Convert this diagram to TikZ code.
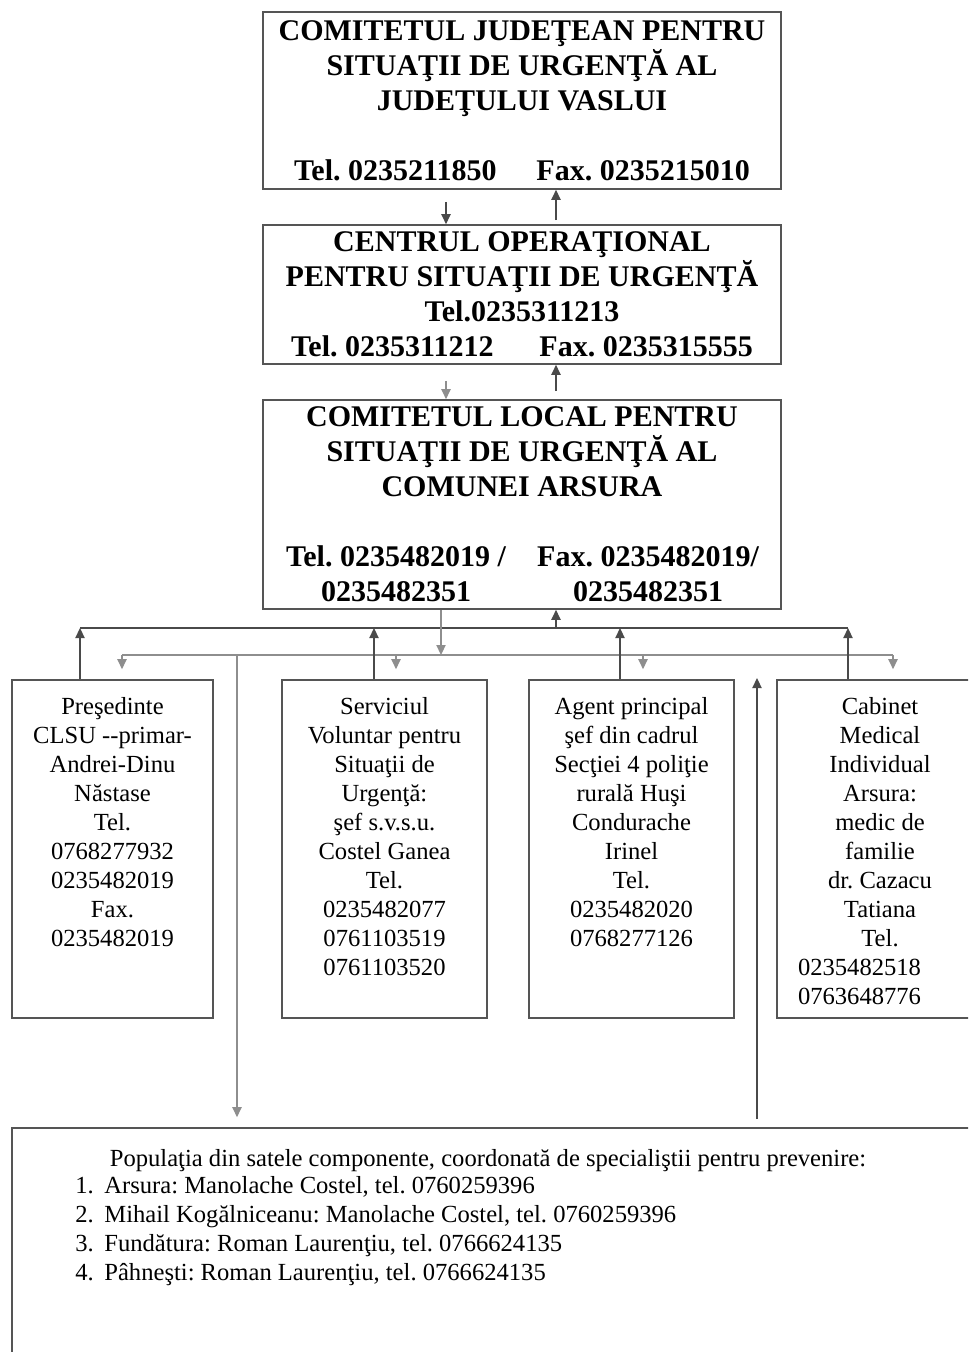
\documentclass[tikz,border=0pt]{standalone}
\usepackage{fontspec}
\setmainfont{Liberation Serif}
\usetikzlibrary{arrows.meta}
\definecolor{boxcol}{HTML}{555555}
\definecolor{darkcol}{HTML}{4A4A4A}
\definecolor{graycol}{HTML}{8E8E8E}
\newcommand\bgfnt{\fontsize{15pt}{17.5pt}\selectfont\bfseries}
\newcommand\smfnt{\fontsize{12.3pt}{14.5pt}\selectfont}
\frenchspacing
\begin{document}
\frenchspacing
\begin{tikzpicture}[x=0.5pt,y=-0.5pt,
  bigbox/.style={draw=boxcol, line width=0.8pt, inner sep=0pt, align=center, font=\bgfnt, minimum width=259pt},
  smallbox/.style={draw=boxcol, line width=0.8pt, minimum height=169pt, inner sep=0pt},
  txt/.style={align=center, inner sep=0pt, font=\smfnt, anchor=north},
  darkarr/.style={draw=darkcol, line width=0.7pt, -{Triangle[length=5pt,width=4.6pt]}},
  grayarr/.style={draw=graycol, line width=0.7pt, -{Triangle[length=5pt,width=4.6pt]}},
  darkline/.style={draw=darkcol, line width=0.7pt},
  grayline/.style={draw=graycol, line width=0.7pt}]
\useasboundingbox (0,0) rectangle (968,1352);
\fill[white] (0,0) rectangle (968,1352);
\clip (0,0) rectangle (968,1352);

% main boxes
\node[bigbox, minimum height=88.5pt] (J) at (522,100.5) {COMITETUL JUDEŢEAN PENTRU\\SITUAŢII DE URGENŢĂ AL\\JUDEŢULUI VASLUI\\[17.5pt]Tel. 0235211850\hspace{20pt}Fax. 0235215010};
\node[bigbox, minimum height=69.5pt] (C) at (522,294.5) {CENTRUL OPERAŢIONAL\\PENTRU SITUAŢII DE URGENŢĂ\\Tel.0235311213\\Tel. 0235311212\hspace{23pt}Fax. 0235315555};
\node[bigbox, minimum height=104.5pt] (L) at (522,504.5) {COMITETUL LOCAL PENTRU\\SITUAŢII DE URGENŢĂ AL\\COMUNEI ARSURA\\[17.5pt]\makebox[112pt]{Tel. 0235482019 /}\hspace{14pt}\makebox[112pt]{Fax. 0235482019/}\\\makebox[112pt]{0235482351}\hspace{14pt}\makebox[112pt]{0235482351}};

% small boxes
\node[smallbox, minimum width=100.5pt] (A) at (112.5,849) {};
\node[smallbox, minimum width=102.5pt] (B) at (384.5,849) {};
\node[smallbox, minimum width=102.5pt] (G) at (631.5,849) {};
\node[smallbox, minimum width=103pt] (D) at (880,849) {};

\node[txt] (At) at (112.5,697) {Preşedinte\\CLSU -{}-primar-\\Andrei-Dinu\\Năstase\\Tel.\\0768277932\\0235482019\\Fax.\\0235482019};
\node[txt] (Bt) at (384.5,697) {Serviciul\\Voluntar pentru\\Situaţii de\\Urgenţă:\\şef s.v.s.u.\\Costel Ganea\\Tel.\\0235482077\\0761103519\\0761103520};
\node[txt] (Gt) at (631.5,697) {Agent principal\\şef din cadrul\\Secţiei 4 poliţie\\rurală Huşi\\Condurache\\Irinel\\Tel.\\0235482020\\0768277126};
\node[txt] (Dt) at (880,697) {Cabinet\\Medical\\Individual\\Arsura:\\medic de\\familie\\dr. Cazacu\\Tatiana\\Tel.\\\makebox[82pt][l]{0235482518}\\\makebox[82pt][l]{0763648776}};

% bottom box
\node[draw=boxcol, line width=0.8pt, minimum width=494pt, minimum height=136pt, inner sep=0pt] (P) at (506,1264) {};
\node[txt] (Ph) at (488,1149) {Populaţia din satele componente, coordonată de specialiştii pentru prevenire:};
\node[txt, anchor=north west, align=left] (Pl) at (75,1176) {\makebox[14.5pt][l]{1.}Arsura: Manolache Costel, tel. 0760259396\\\makebox[14.5pt][l]{2.}Mihail Kogălniceanu: Manolache Costel, tel. 0760259396\\\makebox[14.5pt][l]{3.}Fundătura: Roman Laurenţiu, tel. 0766624135\\\makebox[14.5pt][l]{4.}Pâhneşti: Roman Laurenţiu, tel. 0766624135};

% helper coordinates
\coordinate (x446) at (446,0);
\coordinate (x556) at (556,0);
\coordinate (x441) at (441,0);
\coordinate (x80) at (80,0);
\coordinate (x374) at (374,0);
\coordinate (x620) at (620,0);
\coordinate (x848) at (848,0);
\coordinate (x122) at (122,0);
\coordinate (x396) at (396,0);
\coordinate (x643) at (643,0);
\coordinate (x893) at (893,0);
\coordinate (x237) at (237,0);
\coordinate (up) at (0,628);
\coordinate (lo) at (0,655);
\coordinate (free) at (757,678);

% connectors between main boxes
\draw[darkarr, shorten <=6pt] (J.south -| x446) -- (C.north -| x446);
\draw[darkarr, shorten <=2pt] (C.north -| x556) -- (J.south -| x556);
\draw[grayarr, shorten <=8pt] (C.south -| x446) -- (L.north -| x446);
\draw[darkarr, shorten <=4pt] (L.north -| x556) -- (C.south -| x556);

% distribution lines
\draw[darkline] (x80 |- up) -- (x848 |- up);
\draw[darkarr] (x556 |- up) -- (L.south -| x556);
\draw[grayline] (x122 |- lo) -- (x893 |- lo);
\draw[grayarr] (L.south -| x441) -- (x441 |- lo);

\draw[darkarr] (A.north -| x80) -- (x80 |- up);
\draw[darkarr] (B.north -| x374) -- (x374 |- up);
\draw[darkarr] (G.north -| x620) -- (x620 |- up);
\draw[darkarr] (D.north -| x848) -- (x848 |- up);

\draw[grayarr, shorten >=5pt] (x122 |- lo) -- (A.north -| x122);
\draw[grayarr, shorten >=5pt] (x396 |- lo) -- (B.north -| x396);
\draw[grayarr, shorten >=5pt] (x643 |- lo) -- (G.north -| x643);
\draw[grayarr, shorten >=5pt] (x893 |- lo) -- (D.north -| x893);

\draw[grayarr, shorten >=5pt] (x237 |- lo) -- (P.north -| x237);
\draw[darkarr, shorten <=4pt] (P.north -| free) -- (free);
\end{tikzpicture}
\end{document}
